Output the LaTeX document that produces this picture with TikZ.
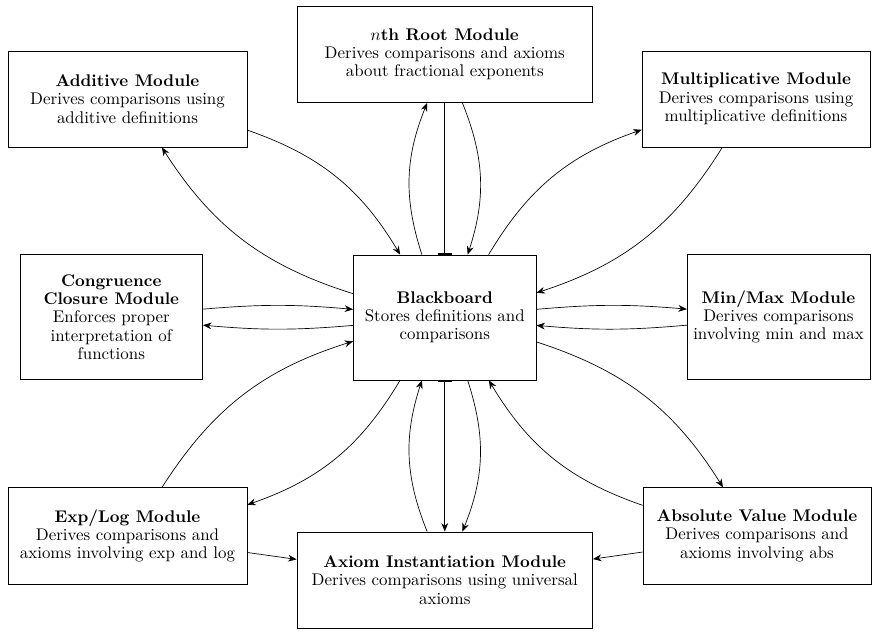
\documentclass[tikz,border=0pt]{standalone}
\usepackage{amsmath}
\usepackage{amssymb}
\usepackage{tikz}
\usetikzlibrary{arrows.meta}
\tikzstyle{module}=[draw, align=center, minimum height=2cm, font=\fontsize{10pt}{10.8pt}\selectfont]
\tikzstyle{wmodule}=[module, minimum width=6.15cm]
\tikzstyle{lmodule}=[module, minimum width=4.97cm]
\tikzstyle{rmodule}=[module, minimum width=4.74cm]
\tikzstyle{cmodule}=[module, minimum width=3.8cm, minimum height=2.6cm]
\tikzstyle{link}=[-{Stealth[length=5pt, width=4pt]}]
\tikzstyle{barlink}=[{Bar[width=8pt, line width=1.2pt]}-]
\tikzstyle{barto}=[{Bar[width=8pt, line width=1.2pt]}-{Stealth[length=5pt, width=4pt]}]

\begin{document}
\begin{tikzpicture}
        \useasboundingbox (0, 0) rectangle (18.135, -13.123);
        \node[wmodule] (root) at (9.25, -1.133) {\textbf{$n$th Root Module}\\ Derives comparisons and axioms\\ about fractional exponents};
        \node[lmodule] (add) at (2.652, -2.059) {\textbf{Additive Module}\\ Derives comparisons using\\ additive definitions};
        \node[rmodule] (mult) at (15.723, -2.059) {\textbf{Multiplicative Module}\\ Derives comparisons using\\ multiplicative definitions};
        \node[cmodule] (cong) at (2.315, -6.593) {\textbf{Congruence}\\ \textbf{Closure Module}\\ Enforces proper\\ interpretation of\\ functions};
        \node[cmodule] (bb) at (9.25, -6.603) {\textbf{Blackboard}\\ Stores definitions and\\ comparisons};
        \node[cmodule] (minmax) at (16.19, -6.593) {\textbf{Min/Max Module}\\ Derives comparisons\\ involving min and max};
        \node[lmodule] (exp) at (2.652, -11.143) {\textbf{Exp/Log Module}\\ Derives comparisons and\\ axioms involving exp and log};
        \node[wmodule] (axiom) at (9.25, -12.062) {\textbf{Axiom Instantiation Module}\\ Derives comparisons using universal\\ axioms};
        \node[rmodule] (abs) at (15.743, -11.143) {\textbf{Absolute Value Module}\\ Derives comparisons and\\ axioms involving abs};
        \draw[link] (bb) to[bend left=20] (root);
        \draw[link] (root) to[bend left=20] (bb);
        \draw[barlink] (bb) -- (root);
        \draw[link] (axiom) to[bend left=20] (bb);
        \draw[link] (bb) to[bend left=20] (axiom);
        \draw[barto] (bb) -- (axiom);
        \draw[link] (add) to[bend left=20] (bb);
        \draw[link] (bb) to[bend left=20] (add);
        \draw[link] (mult) to[bend left=20] (bb);
        \draw[link] (bb) to[bend left=20] (mult);
        \draw[link] (cong) to[bend left=5] (bb);
        \draw[link] (bb) to[bend left=5] (cong);
        \draw[link] (minmax) to[bend left=5] (bb);
        \draw[link] (bb) to[bend left=5] (minmax);
        \draw[link] (exp) to[bend left=20] (bb);
        \draw[link] (bb) to[bend left=20] (exp);
        \draw[link] (abs) to[bend left=20] (bb);
        \draw[link] (bb) to[bend left=20] (abs);
        \draw[link] (exp) -- (axiom);
        \draw[link] (abs) -- (axiom);
    \end{tikzpicture}
\end{document}
